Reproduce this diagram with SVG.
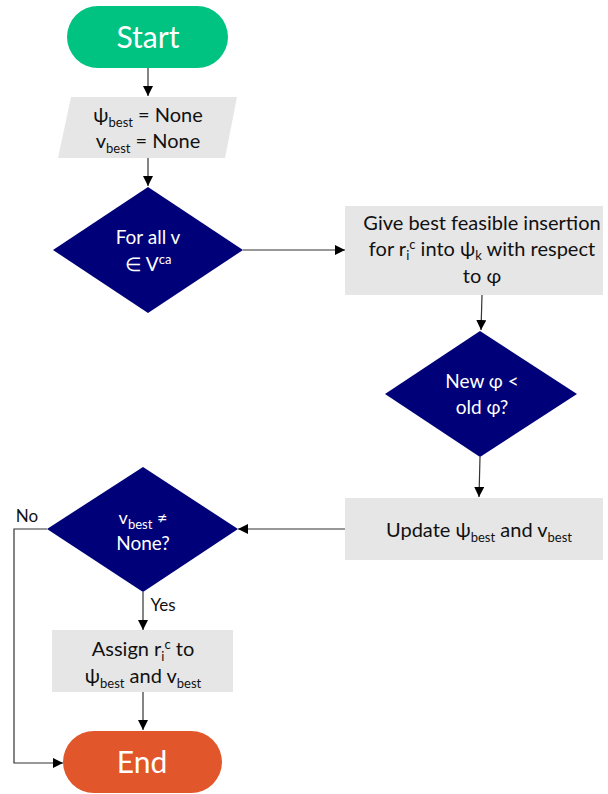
<svg xmlns="http://www.w3.org/2000/svg" width="608" height="794" viewBox="0 0 608 794">
<defs>
<marker id="ah" viewBox="0 0 10 10" refX="10" refY="5" markerWidth="10" markerHeight="10" markerUnits="userSpaceOnUse" orient="auto">
<path d="M0,0 L10,5 L0,10 z" fill="#000"/>
</marker>
<style>
.t{font-family:Lato,"Open Sans","Liberation Sans",sans-serif;text-anchor:middle}
.w{fill:#fff}
.k{fill:#111}
.box{fill:#E6E6E6}
.dia{fill:#000078}
.c{fill:none;stroke:#333;stroke-width:1.2;marker-end:url(#ah)}
.sub{font-size:13px}
</style>
</defs>
<rect width="608" height="794" fill="#fff"/>
<g id="connectors">
<path class="c" d="M148,68 L148,96"/>
<path class="c" d="M148,158 L148,186"/>
<path class="c" d="M243,250 L345,250"/>
<path class="c" d="M482,295 L481,330"/>
<path class="c" d="M480,457 L479,497"/>
<path class="c" d="M345,529 L238,529"/>
<path class="c" d="M47,529 L14,529 L14,763 L63,763"/>
<path class="c" d="M143,592 L143,630"/>
<path class="c" d="M143,692 L143,730"/>
<text class="t k" x="27" y="522" font-size="17">No</text>
<text class="t k" x="163" y="611" font-size="17">Yes</text>
</g>
<g id="start">
<rect x="67" y="6" width="161" height="62" rx="31" fill="#00C281"/>
<text class="t w" x="148" y="48" font-size="30">Start</text>
</g>
<g id="init">
<polygon class="box" points="71,97 237,97 225,158 58,158"/>
<text class="t k" x="148" y="122" font-size="20">ψ<tspan class="sub" dy="5">best</tspan><tspan dy="-5"> = None</tspan></text>
<text class="t k" x="148" y="148" font-size="20">v<tspan class="sub" dy="5">best</tspan><tspan dy="-5"> = None</tspan></text>
</g>
<g id="forall">
<polygon class="dia" points="148,187 243,250 148,313 53,250"/>
<text class="t w" x="148" y="244" font-size="19">For all v</text>
<text class="t w" x="148" y="271" font-size="19">∈ V<tspan class="sub" dy="-7">ca</tspan></text>
</g>
<g id="insert">
<rect class="box" x="345" y="206" width="258" height="89"/>
<text class="t k" x="482" y="230" font-size="20">Give best feasible insertion</text>
<text class="t k" x="482" y="256" font-size="20">for r<tspan class="sub" dy="4">i</tspan><tspan class="sub" dy="-11">c</tspan><tspan dy="7"> into ψ</tspan><tspan class="sub" dy="4">k</tspan><tspan dy="-4"> with respect</tspan></text>
<text class="t k" x="482" y="283" font-size="20">to φ</text>
</g>
<g id="compare">
<polygon class="dia" points="480,331 577,394 480,457 385,394"/>
<text class="t w" x="482" y="388" font-size="19">New φ &lt;</text>
<text class="t w" x="482" y="414" font-size="19">old φ?</text>
</g>
<g id="update">
<rect class="box" x="345" y="498" width="258" height="62"/>
<text class="t k" x="479" y="537" font-size="20">Update ψ<tspan class="sub" dy="5">best</tspan><tspan dy="-5"> and v</tspan><tspan class="sub" dy="5">best</tspan></text>
</g>
<g id="check">
<polygon class="dia" points="143,467 238,529 143,592 47,529"/>
<text class="t w" x="143" y="524" font-size="18">v<tspan class="sub" dy="5">best</tspan><tspan dy="-5"> ≠</tspan></text>
<text class="t w" x="143" y="550" font-size="19">None?</text>
</g>
<g id="assign">
<rect class="box" x="52" y="630" width="181" height="62"/>
<text class="t k" x="143" y="656" font-size="20">Assign r<tspan class="sub" dy="5">i</tspan><tspan class="sub" dy="-12">c</tspan><tspan dy="7"> to</tspan></text>
<text class="t k" x="143" y="683" font-size="20">ψ<tspan class="sub" dy="5">best</tspan><tspan dy="-5"> and v</tspan><tspan class="sub" dy="5">best</tspan></text>
</g>
<g id="end">
<rect x="63" y="731" width="159" height="62" rx="31" fill="#E2562B"/>
<text class="t w" x="142" y="773" font-size="30">End</text>
</g>
</svg>
